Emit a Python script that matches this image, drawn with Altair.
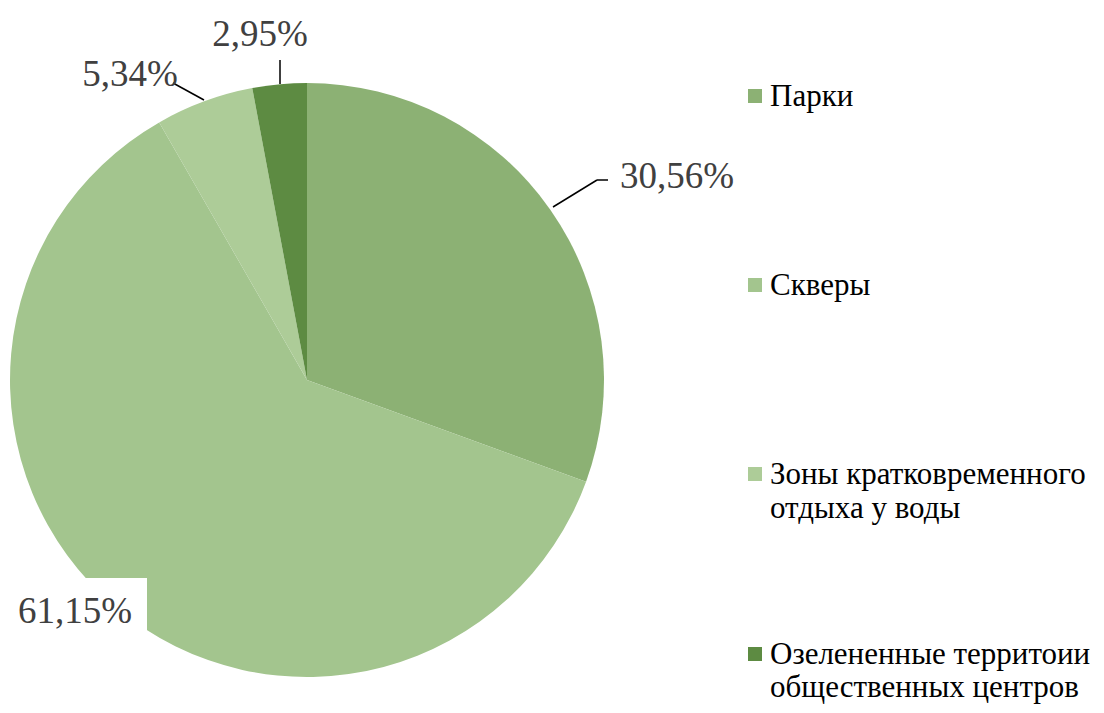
import altair as alt
import pandas as pd

# ---- data ----
categories = ["Парки", "Скверы", "Зоны кратковременного отдыха у воды",
              "Озелененные территоии общественных центров"]
values = [30.56, 61.15, 5.34, 2.95]
pct_labels = ["30,56%", "61,15%", "5,34%", "2,95%"]
legend_lines = [["Парки"], ["Скверы"], ["Зоны кратковременного", "отдыха у воды"],
                ["Озелененные территоии", "общественных центров"]]
colors = ["#8CB174", "#A3C58E", "#ADCC98", "#5D8B42"]

FONT = "Liberation Serif"
CX, CY, R = 299, 372, 297

pie_df = pd.DataFrame({"cat": categories, "value": values, "idx": list(range(len(values)))})
color_scale = alt.Scale(domain=categories, range=colors)

pie = alt.Chart(pie_df).mark_arc(radius=R).encode(
    theta=alt.Theta("value:Q", stack=True),
    color=alt.Color("cat:N", scale=color_scale, legend=None),
    order=alt.Order("idx:Q"),
    x=alt.value(CX), y=alt.value(CY),
)

box = alt.Chart(pd.DataFrame({"k": [0]})).mark_rect(color="white").encode(
    x=alt.value(-8), x2=alt.value(139), y=alt.value(570), y2=alt.value(637)
)

leaders = (
    alt.Chart(pd.DataFrame({"k": [0]})).mark_rule(color="black", strokeWidth=1.5).encode(
        x=alt.value(545), y=alt.value(199), x2=alt.value(589), y2=alt.value(172))
    + alt.Chart(pd.DataFrame({"k": [0]})).mark_rule(color="black", strokeWidth=1.5).encode(
        x=alt.value(589), y=alt.value(172), x2=alt.value(600), y2=alt.value(172))
    + alt.Chart(pd.DataFrame({"k": [0]})).mark_rule(color="black", strokeWidth=1.5).encode(
        x=alt.value(165), y=alt.value(75), x2=alt.value(196), y2=alt.value(92))
    + alt.Chart(pd.DataFrame({"k": [0]})).mark_rule(color="black", strokeWidth=1.5).encode(
        x=alt.value(272), y=alt.value(52), x2=alt.value(272), y2=alt.value(76))
)

lab_pos_x = [669, 67, 122, 252]
lab_pos_y = [169, 604, 67, 27]
lab_layers = []
for i, t in enumerate(pct_labels):
    lab_layers.append(
        alt.Chart(pd.DataFrame({"t": [t]})).mark_text(
            font=FONT, fontSize=37, color="#404040", align="center", baseline="middle"
        ).encode(text="t:N", x=alt.value(lab_pos_x[i]), y=alt.value(lab_pos_y[i]))
    )

leg_rows = []
for i, lines in enumerate(legend_lines):
    for j, ln in enumerate(lines):
        leg_rows.append({"cat": categories[i], "i": i, "j": j, "txt": ln})
leg_df = pd.DataFrame(leg_rows)

leg_text = alt.Chart(leg_df).transform_calculate(
    ly="98 + datum.i * 189 + datum.j * 34 - (datum.i == 3 ? 9 + datum.j : 0)"
).mark_text(font=FONT, fontSize=31, color="black", align="left", baseline="alphabetic").encode(
    x=alt.value(762), y=alt.Y("ly:Q", scale=None), text="txt:N"
)

leg_sym = alt.Chart(leg_df).transform_filter("datum.j == 0").transform_calculate(
    ly="88 + datum.i * 189 - (datum.i == 3 ? 9 : 0)"
).mark_square(size=196, opacity=1).encode(
    x=alt.value(747), y=alt.Y("ly:Q", scale=None),
    color=alt.Color("cat:N", scale=color_scale, legend=None),
)

chart = alt.layer(pie, box, leaders, *lab_layers, leg_text, leg_sym).properties(
    width=1088, height=697, padding=0, autosize="none"
).configure_view(stroke=None)

chart.save("out.html", embed_options={"renderer": "svg", "actions": False})
